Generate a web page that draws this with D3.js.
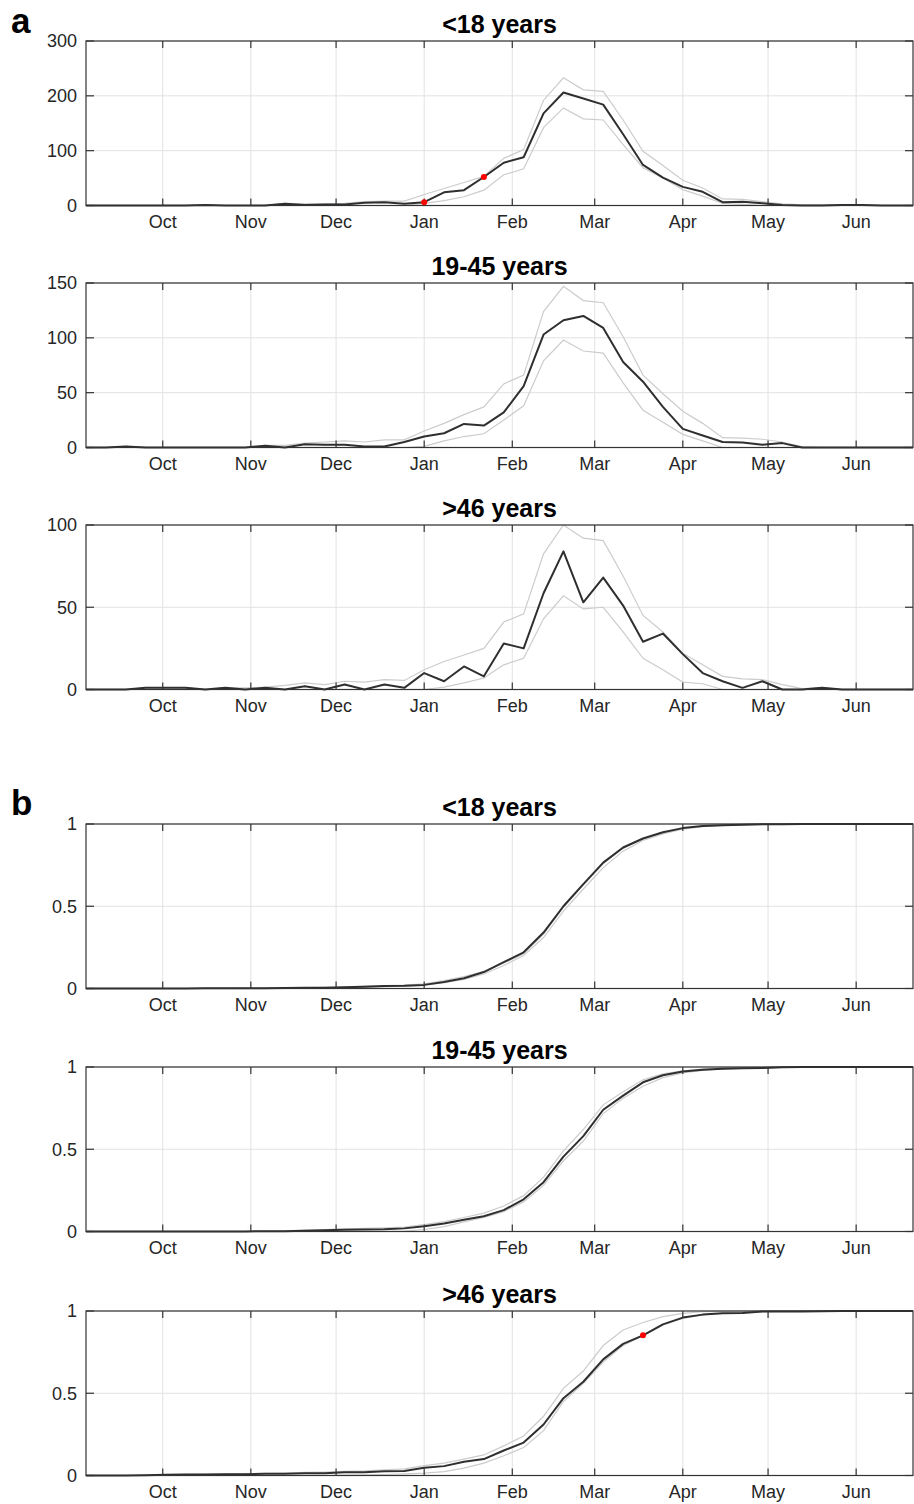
<!DOCTYPE html>
<html>
<head>
<meta charset="utf-8">
<script src="https://cdn.jsdelivr.net/npm/d3@7"></script>
<style>
  body { margin: 0; background: #fff; }
  text { font-family: "Liberation Sans", Arial, Helvetica, sans-serif; }
</style>
</head>
<body>
<svg id="canvas" width="914" height="1504"></svg>
<script>
// weekly points, first one on 4 Sep 2015
const weekStart = new Date(2015, 8, 4);
const monthLabels = ["Oct", "Nov", "Dec", "Jan", "Feb", "Mar", "Apr", "May", "Jun"];
const panelTitles = ["<18 years", "19-45 years", ">46 years", "<18 years", "19-45 years", ">46 years"];

// a: weekly counts (mean, upper, lower)
const a1Mean = [0,0,0,0,0,0,1,0,0,0,3,1,2,2,5,6,3,6,24,28,52,78,88,168,206,195,184,130,74,51,34,25,6,7,4,1,0,0,1,1,0,0,0];
const a1Hi   = [0,0,0,0,0,0,1,0,0,0,4,3,3,4,7,8,8,20,31,42,53,86,102,192,233,211,208,156,99,73,46,32,12,11,7,3,1,1,1,1,0,0,0];
const a1Lo   = [0,0,0,0,0,0,0,0,0,0,0,0,0,0,0,0,0,4,9,16,28,56,67,142,178,158,156,111,69,50,29,17,4,2,0,0,0,0,0,0,0,0,0];

const a2Mean = [0,0,1,0,0,0,0,0,0,1.5,0,3,2.5,2.5,1,1,5,10,13,21.5,20,32,56,103,116,120,109,78,60,37,17,11,5,4.5,2.5,4,0,0,0,0,0,0,0];
const a2Hi   = [0,0,1,0,0,0,0,0,0,2,2,4,5,6,5,7,7,15,22,30,37,58,66,124,147,134,132,101,66,49,33,22,9,8.5,7.5,5,0.5,0,0,0,0,0,0];
const a2Lo   = [0,0,0,0,0,0,0,0,0,0,0,0,0,0,0,0,0,1,6,10,12.5,25,38,79,98,88,86,59,34,23,12,6,0,0,0,0,0,0,0,0,0,0,0];

const a3Mean = [0,0,0,1,1,1,0,1,0,1,0,2,0,3,0,3,1,10,5,14,8,28,25,58.5,84,53,68,51,29,34,21.5,10,5,1,5,0,0,1,0,0,0,0,0];
const a3Hi   = [0,0,0,1,1,1,0,1,1,1.5,2.5,4,3,5,4.5,6,5.5,12,17,21,25,41,46,82.5,100,92,90.5,69,45,35,22,15,8,6.5,6,3,0.5,1,0,0,0,0,0];
const a3Lo   = [0,0,0,0,0,0,0,0,0,0,0,0,0,0,0,0,0,0,1.5,4,7,15,19,43,57,49,50,35,19,12,4.5,3.5,0,0,0,0,0,0,0,0,0,0,0];

// b: cumulative fractions (mean, upper, lower)
const b1Mean = [0,0,0,0,0,0,0.001,0.001,0.001,0.001,0.003,0.004,0.005,0.007,0.01,0.015,0.017,0.022,0.04,0.062,0.1,0.16,0.22,0.34,0.5,0.635,0.765,0.857,0.912,0.95,0.975,0.988,0.993,0.996,0.998,0.999,1,1,1,1,1,1,1];
const b1Hi   = [0,0,0,0,0,0,0.001,0.001,0.002,0.002,0.004,0.006,0.007,0.01,0.014,0.018,0.021,0.028,0.048,0.072,0.105,0.155,0.212,0.33,0.495,0.63,0.76,0.852,0.91,0.948,0.972,0.987,0.993,0.996,0.998,0.999,1,1,1,1,1,1,1];
const b1Lo   = [0,0,0,0,0,0,0,0,0,0,0.001,0.002,0.003,0.005,0.008,0.012,0.014,0.02,0.035,0.055,0.088,0.14,0.2,0.31,0.47,0.605,0.735,0.835,0.9,0.94,0.968,0.984,0.991,0.995,0.997,0.999,1,1,1,1,1,1,1];

const b2Mean = [0,0,0,0,0,0,0,0,0,0.002,0.002,0.005,0.008,0.011,0.012,0.013,0.019,0.032,0.048,0.071,0.093,0.13,0.196,0.3,0.455,0.58,0.74,0.826,0.907,0.95,0.972,0.984,0.99,0.992,0.994,0.998,1,1,1,1,1,1,1];
const b2Hi   = [0,0,0,0,0,0,0,0,0,0.003,0.004,0.008,0.012,0.016,0.019,0.022,0.027,0.042,0.06,0.085,0.112,0.155,0.218,0.33,0.49,0.62,0.77,0.85,0.922,0.958,0.977,0.987,0.992,0.994,0.996,0.999,1,1,1,1,1,1,1];
const b2Lo   = [0,0,0,0,0,0,0,0,0,0,0,0,0,0,0,0,0.002,0.012,0.03,0.058,0.085,0.12,0.18,0.28,0.43,0.55,0.717,0.81,0.883,0.935,0.964,0.98,0.988,0.991,0.993,0.997,1,1,1,1,1,1,1];

const b3Mean = [0,0,0,0.002,0.004,0.006,0.006,0.008,0.008,0.01,0.01,0.014,0.014,0.02,0.02,0.026,0.028,0.047,0.057,0.084,0.1,0.152,0.2,0.31,0.47,0.57,0.706,0.8,0.852,0.919,0.96,0.978,0.987,0.988,0.997,0.997,0.997,0.999,1,1,1,1,1];
const b3Hi   = [0,0,0,0.003,0.005,0.007,0.008,0.01,0.011,0.013,0.015,0.019,0.021,0.025,0.028,0.035,0.04,0.06,0.075,0.1,0.125,0.18,0.24,0.36,0.53,0.635,0.79,0.885,0.93,0.966,0.986,0.996,0.998,0.999,1,1,1,1,1,1,1,1,1];
const b3Lo   = [0,0,0,0,0,0,0,0,0,0,0,0,0,0.003,0.004,0.006,0.01,0.014,0.024,0.045,0.075,0.12,0.17,0.273,0.45,0.56,0.69,0.79,0.85,0.915,0.955,0.976,0.985,0.988,0.996,0.997,1,1,1,1,1,1,1];

// red markers (week indices)
const a1Marks = [17, 20];
const b3Marks = [28];

const panels = [
    { mean: a1Mean, hi: a1Hi, lo: a1Lo, yMax: 300, yTicks: [0, 100, 200, 300], marks: a1Marks },
    { mean: a2Mean, hi: a2Hi, lo: a2Lo, yMax: 150, yTicks: [0, 50, 100, 150], marks: [] },
    { mean: a3Mean, hi: a3Hi, lo: a3Lo, yMax: 100, yTicks: [0, 50, 100], marks: [] },
    { mean: b1Mean, hi: b1Hi, lo: b1Lo, yMax: 1, yTicks: [0, 0.5, 1], marks: [] },
    { mean: b2Mean, hi: b2Hi, lo: b2Lo, yMax: 1, yTicks: [0, 0.5, 1], marks: [] },
    { mean: b3Mean, hi: b3Hi, lo: b3Lo, yMax: 1, yTicks: [0, 0.5, 1], marks: b3Marks }
];

const tops = [41, 283, 525, 824, 1067, 1311];
const left = 86, right = 913, ph = 164.5;
const axisColor = "#333333";

const svg = d3.select("#canvas");

const dateOf = i => d3.timeDay.offset(weekStart, 7 * i);

const x = d3.scaleTime()
    .domain([weekStart, new Date(2016, 5, 21)])
    .range([left, right]);

const monthTicks = d3.timeMonth.range(new Date(2015, 9, 1), new Date(2016, 6, 1));

// panel letters
svg.append("text").attr("x", 11).attr("y", 33)
    .attr("font-size", 35).attr("font-weight", "bold").text("a");
svg.append("text").attr("x", 11).attr("y", 815)
    .attr("font-size", 35).attr("font-weight", "bold").text("b");

panels.forEach((p, k) => {
    const top = tops[k];
    const bottom = top + ph;
    const y = d3.scaleLinear().domain([0, p.yMax]).range([bottom, top]);
    const g = svg.append("g");

    const clipId = "clip" + k;
    svg.append("clipPath").attr("id", clipId)
        .append("rect")
        .attr("x", left).attr("y", top - 2)
        .attr("width", right - left).attr("height", ph + 4);

    // grid
    g.selectAll(".vgrid")
        .data(monthTicks)
        .join("line")
        .attr("x1", d => x(d)).attr("x2", d => x(d))
        .attr("y1", top).attr("y2", bottom)
        .attr("stroke", "#e2e2e2").attr("stroke-width", 1);
    g.selectAll(".hgrid")
        .data(p.yTicks)
        .join("line")
        .attr("x1", left).attr("x2", right)
        .attr("y1", d => y(d)).attr("y2", d => y(d))
        .attr("stroke", "#e2e2e2").attr("stroke-width", 1);

    const line = d3.line()
        .x((d, i) => x(dateOf(i)))
        .y(d => y(d));

    const plot = g.append("g").attr("clip-path", "url(#" + clipId + ")");

    [p.hi, p.lo].forEach(s => {
        plot.append("path")
            .datum(s)
            .attr("d", line)
            .attr("fill", "none")
            .attr("stroke", "#cccccc")
            .attr("stroke-width", 1.2);
    });

    plot.append("path")
        .datum(p.mean)
        .attr("d", line)
        .attr("fill", "none")
        .attr("stroke", "#2f2f2f")
        .attr("stroke-width", 2)
        .attr("stroke-linejoin", "round");

    // box
    g.append("rect")
        .attr("x", left).attr("y", top)
        .attr("width", right - left).attr("height", ph)
        .attr("fill", "none")
        .attr("stroke", axisColor)
        .attr("stroke-width", 1.2);

    // ticks (inside, MATLAB style)
    const xt = g.append("g");
    monthTicks.forEach(d => {
        xt.append("line").attr("x1", x(d)).attr("x2", x(d))
            .attr("y1", top).attr("y2", top + 7).attr("stroke", axisColor).attr("stroke-width", 1.2);
        xt.append("line").attr("x1", x(d)).attr("x2", x(d))
            .attr("y1", bottom).attr("y2", bottom - 7).attr("stroke", axisColor).attr("stroke-width", 1.2);
    });
    p.yTicks.forEach(v => {
        xt.append("line").attr("x1", left).attr("x2", left + 8)
            .attr("y1", y(v)).attr("y2", y(v)).attr("stroke", axisColor).attr("stroke-width", 1.2);
        xt.append("line").attr("x1", right).attr("x2", right - 8)
            .attr("y1", y(v)).attr("y2", y(v)).attr("stroke", axisColor).attr("stroke-width", 1.2);
    });

    // tick labels
    g.selectAll(".mlab")
        .data(monthTicks)
        .join("text")
        .attr("x", d => x(d))
        .attr("y", bottom + 22)
        .attr("text-anchor", "middle")
        .attr("font-size", 18)
        .attr("fill", "#262626")
        .text((d, i) => monthLabels[i]);

    g.selectAll(".ylab")
        .data(p.yTicks)
        .join("text")
        .attr("x", left - 9)
        .attr("y", d => y(d))
        .attr("dy", "0.35em")
        .attr("text-anchor", "end")
        .attr("font-size", 18)
        .attr("fill", "#262626")
        .text(d => d3.format("~g")(d));

    // title
    g.append("text")
        .attr("x", (left + right) / 2)
        .attr("y", top - 8)
        .attr("text-anchor", "middle")
        .attr("font-size", 25)
        .attr("font-weight", "bold")
        .attr("fill", "#000")
        .text(panelTitles[k]);

    // red markers
    g.selectAll(".mark")
        .data(p.marks)
        .join("circle")
        .attr("cx", i => x(dateOf(i)))
        .attr("cy", i => y(p.mean[i]))
        .attr("r", 3)
        .attr("fill", "#ff0000");
});
</script>
</body>
</html>
